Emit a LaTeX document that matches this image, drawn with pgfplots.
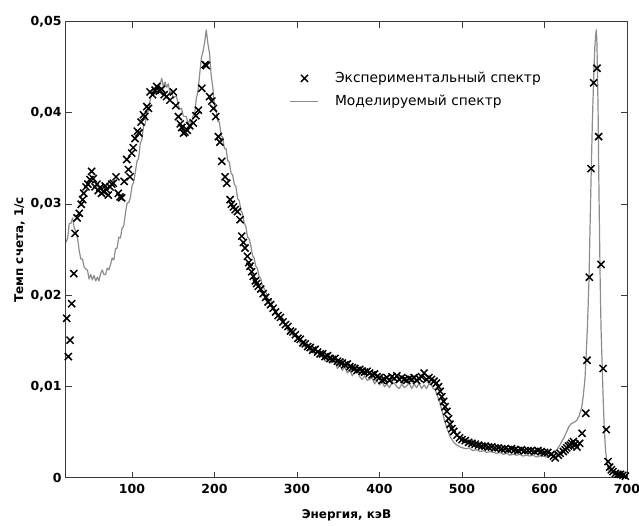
\documentclass[border=0pt]{standalone}
\usepackage{fontspec}
\setmainfont{DejaVu Sans}
\usepackage{pgfplots}
\usepackage{pgfplotstable}
\pgfplotsset{compat=1.18}
\definecolor{modelc}{RGB}{140,140,140}
\definecolor{framec}{RGB}{60,60,60}

\pgfplotstableread{
x y
20 0.0258
22 0.0263
24 0.0279
26 0.0279
28 0.0285
30 0.0274
32 0.0270
34 0.0263
36 0.0249
38 0.0240
40 0.0240
42 0.0231
44 0.0229
46 0.0228
48 0.0218
50 0.0223
52 0.0217
54 0.0222
56 0.0216
58 0.0220
60 0.0216
62 0.0224
64 0.0228
66 0.0223
68 0.0223
70 0.0230
72 0.0228
74 0.0234
76 0.0241
78 0.0239
80 0.0251
82 0.0252
84 0.0264
86 0.0263
88 0.0274
90 0.0276
92 0.0290
94 0.0301
96 0.0302
98 0.0307
100 0.0320
102 0.0324
104 0.0335
106 0.0347
108 0.0350
110 0.0367
112 0.0371
114 0.0386
116 0.0388
118 0.0400
120 0.0402
122 0.0414
124 0.0422
126 0.0420
128 0.0422
130 0.0430
132 0.0428
134 0.0431
136 0.0438
138 0.0428
140 0.0434
142 0.0428
144 0.0432
146 0.0422
148 0.0424
150 0.0416
152 0.0418
154 0.0418
156 0.0409
158 0.0404
160 0.0405
162 0.0397
164 0.0396
166 0.0396
168 0.0387
170 0.0393
172 0.0388
174 0.0397
176 0.0399
178 0.0416
180 0.0424
182 0.0442
184 0.0460
186 0.0467
188 0.0477
190 0.0491
192 0.0476
194 0.0465
196 0.0441
198 0.0428
200 0.0406
202 0.0403
204 0.0391
206 0.0390
208 0.0375
210 0.0373
212 0.0361
214 0.0361
216 0.0348
218 0.0346
220 0.0334
222 0.0332
224 0.0322
226 0.0319
228 0.0306
230 0.0304
232 0.0293
234 0.0290
236 0.0279
238 0.0276
240 0.0264
242 0.0262
244 0.0255
246 0.0244
248 0.0241
250 0.0232
252 0.0230
254 0.0221
256 0.0219
258 0.0210
260 0.0208
262 0.0204
265 0.0196
268 0.0196
271 0.0185
274 0.0185
277 0.0176
280 0.0177
283 0.0175
286 0.0167
289 0.0161
292 0.0163
295 0.0156
298 0.0155
301 0.0155
304 0.0147
307 0.0149
310 0.0143
313 0.0146
316 0.0138
319 0.0140
322 0.0135
325 0.0138
328 0.0138
331 0.0132
334 0.0128
337 0.0132
340 0.0126
343 0.0127
346 0.0128
349 0.0120
352 0.0124
355 0.0118
358 0.0122
361 0.0115
364 0.0118
367 0.0112
370 0.0116
373 0.0117
376 0.0111
379 0.0108
382 0.0112
385 0.0107
388 0.0108
391 0.0110
394 0.0103
397 0.0107
400 0.0102
403 0.0106
406 0.0100
409 0.0103
412 0.0099
415 0.0104
418 0.0104
421 0.0100
424 0.0098
427 0.0103
430 0.0099
433 0.0101
436 0.0104
439 0.0098
442 0.0103
445 0.0099
448 0.0104
451 0.0098
454 0.0102
457 0.0098
460 0.0103
463 0.0102
465 0.0098
467.5 0.0097
470 0.0090
471.5 0.0087
473.6 0.0082
475 0.0076
477 0.0069
479.7 0.0060
482 0.0054
485.7 0.0045
488 0.0042
491 0.0038
494 0.0036
497.9 0.0034
501 0.0033
505 0.0032
509 0.0033
513 0.0030
517 0.0031
522 0.0029
526 0.0030
530 0.0028
534 0.0029
538 0.0028
542 0.0027
546 0.0028
550 0.0026
554 0.0027
558 0.0025
562 0.0026
566.6 0.0025
570 0.0026
574 0.0024
578 0.0025
582 0.0024
586 0.0025
590 0.0023
594 0.0024
598 0.0024
602 0.0023
607 0.0025
610 0.0027
613 0.0029
615 0.0031
618 0.0035
621 0.0040
624 0.0045
627 0.0051
630 0.0057
633 0.0060
636 0.0061
639 0.0063
642 0.0068
645 0.0077
647 0.0090
649 0.0108
650 0.0125
652 0.0165
654 0.0220
656 0.0310
658 0.0390
660 0.0450
661 0.0472
662 0.0485
662.8 0.0491
663.5 0.0478
664 0.0455
665 0.0400
665.6 0.0345
666.5 0.0280
667.5 0.0215
668.5 0.0165
669.7 0.0129
671 0.0090
672.5 0.0053
674 0.0030
676 0.0015
678 0.0008
682 0.0005
688 0.0004
694 0.0003
700 0.0002
}\modeltable

\pgfplotstableread{
x y
20.8 0.0175
22.8 0.0133
24.9 0.0151
26.9 0.0191
29.5 0.0224
30.9 0.0268
33.5 0.0285
36.1 0.0290
38.5 0.0300
40.2 0.0305
41.5 0.0312
44.3 0.0319
46.5 0.0322
49.0 0.0327
51.1 0.0336
53.0 0.0328
55.2 0.0319
57.5 0.0322
59.0 0.0315
61.2 0.0318
63.0 0.0312
65.2 0.0314
67.5 0.0320
69.0 0.0316
71.3 0.0310
73.4 0.0319
75.5 0.0322
77.4 0.0323
80.6 0.0330
83.4 0.0312
85.5 0.0308
87.5 0.0307
90.5 0.0325
93.6 0.0349
95.6 0.0338
97.6 0.0330
99.7 0.0356
101.5 0.0362
103.7 0.0372
106.5 0.0380
108.5 0.0378
111.0 0.0390
113.8 0.0398
115.5 0.0396
117.9 0.0407
120.0 0.0405
121.9 0.0423
125.0 0.0420
128.0 0.0425
130.0 0.0429
133.0 0.0424
136.0 0.0426
139.0 0.0420
142.0 0.0418
146.0 0.0414
150.1 0.0423
153.0 0.0408
156.2 0.0396
158.5 0.0388
160.3 0.0384
162.5 0.0378
164.3 0.0379
167.0 0.0381
170.0 0.0386
174.4 0.0389
177.5 0.0397
180.5 0.0403
184.6 0.0427
188.6 0.0453
190.0 0.0452
194.0 0.0418
196.7 0.0413
198.7 0.0405
201.5 0.0396
204.7 0.0374
206.5 0.0368
208.8 0.0347
212.8 0.0330
214.9 0.0323
218.9 0.0305
220.5 0.0300
222.9 0.0297
225.0 0.0294
227.8 0.0292
231.0 0.0283
233.0 0.0265
235.0 0.0258
237.0 0.0252
239.9 0.0243
241.5 0.0236
243.0 0.0232
245.0 0.0226
247.0 0.0221
249.5 0.0216
251.0 0.0213
253.0 0.0210
256.0 0.0207
259.0 0.0202
262.0 0.0198
265.0 0.0193
268.0 0.0190
271.0 0.0186
274.0 0.0182
277.0 0.0178
280.0 0.0176
283.0 0.0171
286.0 0.0168
289.0 0.0166
292.0 0.0161
295.0 0.0160
298.0 0.0157
301.0 0.0153
304.0 0.0152
307.0 0.0148
310.0 0.0147
313.0 0.0144
316.0 0.0143
319.0 0.0140
322.0 0.0141
325.0 0.0138
328.0 0.0136
331.0 0.0136
334.0 0.0133
337.0 0.0134
340.0 0.0131
343.0 0.0130
346.0 0.0131
349.0 0.0128
352.0 0.0127
355.0 0.0126
358.0 0.0124
361.0 0.0125
364.0 0.0122
367.0 0.0121
370.0 0.0120
373.0 0.0118
376.0 0.0119
379.0 0.0117
382.0 0.0116
385.0 0.0117
388.0 0.0115
391.0 0.0113
394.0 0.0114
397.0 0.0111
400.0 0.0110
403.0 0.0107
406.0 0.0108
409.0 0.0110
412.0 0.0107
415.0 0.0111
418.0 0.0109
421.0 0.0112
424.0 0.0108
427.0 0.0110
430.0 0.0108
433.0 0.0107
436.0 0.0109
439.0 0.0108
442.0 0.0110
445.0 0.0107
448.0 0.0109
451.0 0.0111
454.0 0.0115
457.0 0.0108
460.0 0.0110
463.0 0.0108
466.0 0.0106
469.0 0.0104
471.5 0.0100
473.6 0.0095
475.5 0.0089
477.7 0.0084
479.5 0.0078
481.7 0.0073
483.7 0.0065
485.5 0.0059
487.8 0.0054
490.0 0.0051
493.9 0.0047
497.0 0.0044
500.0 0.0042
504 0.0041
508 0.0039
512 0.0038
516 0.0037
520 0.0036
524 0.0035
528 0.0035
532 0.0034
536 0.0034
540 0.0033
544 0.0033
548 0.0032
552 0.0032
556 0.0031
560 0.0032
564 0.0031
568 0.0030
572 0.0031
576 0.0030
580 0.0030
584 0.0030
588 0.0029
592 0.0030
596 0.0029
600 0.0028
604 0.0028
608 0.0026
611 0.0024
613 0.0022
616.7 0.0025
619 0.0027
622.8 0.0029
625 0.0031
627 0.0033
629 0.0035
631.3 0.0036
633 0.0038
635 0.0040
637 0.0037
639.4 0.0034
642.6 0.0038
645.5 0.0049
650.0 0.0071
651.5 0.0129
654.3 0.0220
656.4 0.0339
659.6 0.0433
663.6 0.0449
665.6 0.0374
668.5 0.0234
671.0 0.0120
674.8 0.0053
677 0.0018
679 0.0012
681 0.0009
683 0.0007
686 0.0005
689 0.0004
692 0.0004
695 0.0003
698 0.0002
}\exptable

\begin{document}
\begin{tikzpicture}
\begin{axis}[
  name=ax,
  scale only axis,
  width=561pt, height=456.3pt,
  xmin=20, xmax=700, ymin=0, ymax=0.05,
  xtick={100,200,...,700},
  ytick={0,0.01,0.02,0.03,0.04,0.05},
  yticklabels={0,{0,01},{0,02},{0,03},{0,04},{0,05}},
  scaled y ticks=false,
  /pgf/number format/assume math mode=true,
  /pgf/number format/set thousands separator={},
  tick align=inside,
  major tick length=6pt,
  axis line style={framec, line width=1pt},
  every tick/.style={framec, line width=1pt},
  ticklabel style={font=\fontsize{12.5}{13}\selectfont\bfseries, text=black},
  xticklabel style={yshift=-3pt},
  yticklabel style={xshift=-1pt},
  xlabel={Энергия, кэВ},
  ylabel={Темп счета, 1/с},
  label style={font=\fontsize{12}{13}\selectfont\bfseries},
  xlabel style={yshift=-9pt},
  ylabel style={yshift=-1pt},
  reverse legend,
  legend cell align=left,
  legend image code/.code={\draw[mark repeat=2,mark phase=2,#1] plot coordinates {(0pt,0pt) (14pt,0pt) (28pt,0pt)};},
  legend style={draw=none, fill=none, at={(axis cs:287.5,0.0449)}, anchor=north west,
    font=\fontsize{13.8}{14}\selectfont, row sep=7pt,
    /tikz/every odd column/.append style={column sep=14pt}},
]
\addplot[modelc, line width=1.2pt, line join=round] table[x=x,y=y] {\modeltable};
\addlegendentry{Моделируемый спектр}
\addplot[only marks, mark=x, mark size=5pt, line width=1.5pt, black] table[x=x,y=y] {\exptable};
\addlegendentry{Экспериментальный спектр}
\end{axis}
\pgfresetboundingbox
\path ([xshift=-66pt,yshift=-48pt]ax.south west) rectangle ([xshift=12pt,yshift=21.7pt]ax.north east);
\end{tikzpicture}
\end{document}
